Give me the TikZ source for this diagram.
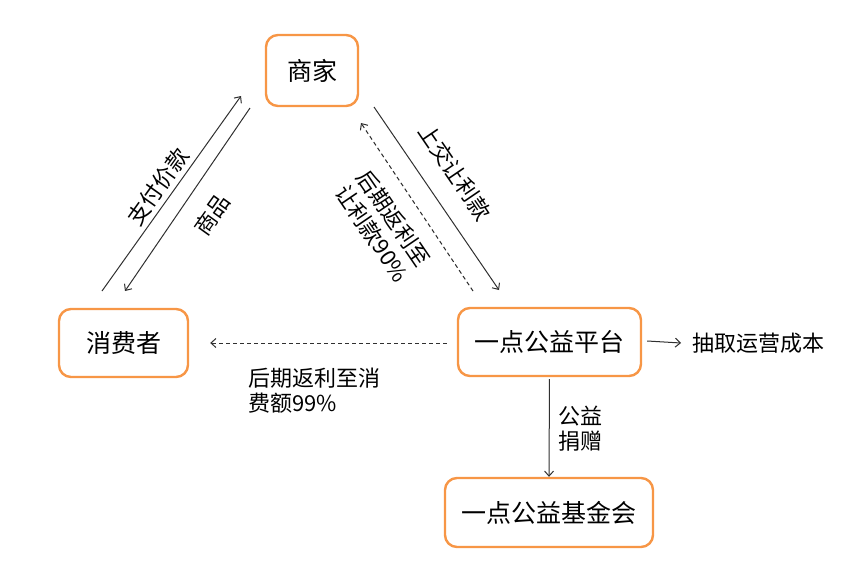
\documentclass[tikz,border=0pt]{standalone}
\usepackage{fontspec}
\setmainfont{Noto Sans CJK SC}
\usetikzlibrary{arrows.meta}
\definecolor{boxorange}{HTML}{F79646}
\definecolor{linegray}{HTML}{303030}
\tikzset{
  box/.style={draw=boxorange, line width=2.4pt, rounded corners=12pt, fill=white,
    font=\fontsize{25}{29}\selectfont, text=black, inner sep=0pt},
  arr/.style={draw=linegray, line width=1pt, -{Straight Barb[length=5pt,width=9pt]}},
  lbl/.style={font=\fontsize{22}{25.5}\selectfont, text=black, inner sep=0pt, align=left},
  dsh/.style={dash pattern=on 4pt off 3pt}
}
\begin{document}
\begin{tikzpicture}[x=1pt,y=-1pt]
\useasboundingbox (0,0) rectangle (848,560);
\node[box, minimum width=92pt, minimum height=71pt] (sj) at (312,70.5) {商家};
\node[box, minimum width=129pt, minimum height=68pt] (cons) at (123.5,343) {消费者};
\node[box, minimum width=183pt, minimum height=68pt] (plat) at (549.5,342) {一点公益平台};
\node[box, minimum width=208pt, minimum height=69pt] (found) at (549,512.5) {一点公益基金会};
\node[lbl, anchor=west] (cost) at (692,343) {抽取运营成本};

% consumer <-> merchant
\coordinate (a1) at (102,291);
\coordinate (a2) at (241,96);
\coordinate (b1) at (250,108);
\coordinate (b2) at (125,291);
\draw[arr] (a1) -- (a2);
\draw[arr] (b1) -- (b2);
\node[lbl, rotate=54.5] (payl) at (158,187) {支付价款};
\node[lbl, rotate=54.5] (goodsl) at (212,215) {商品};

% merchant <-> platform
\coordinate (c1) at (374,107);
\coordinate (c2) at (499,290);
\coordinate (d1) at (473,291);
\coordinate (d2) at (361,123);
\draw[arr] (c1) -- (c2);
\draw[arr, dsh] (d1) -- (d2);
\node[lbl, rotate=-55.7] (upl) at (455,172) {上交让利款};
\node[lbl, rotate=-55.7] (backl) at (383,226) {后期返利至\\[1pt]让利款90\%};

% platform -> consumer
\draw[arr, dsh] ([xshift=-10pt,yshift=-1pt]plat.west) -- ([xshift=21pt]cons.east);
\node[lbl] (retl) at (314,390.5) {后期返利至消\\费额99\%};

% platform -> cost
\draw[arr] ([xshift=5pt,yshift=1pt]plat.east) -- ([xshift=-11pt]cost.west);

% platform -> foundation
\draw[arr, shorten <=2pt] (plat.south) -- (found.north);
\node[lbl] (donl) at (580.5,428.5) {公益\\捐赠};
\end{tikzpicture}
\end{document}
